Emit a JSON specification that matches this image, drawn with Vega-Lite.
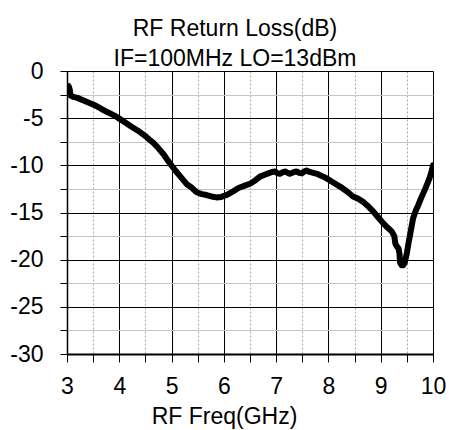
{
  "$schema": "https://vega.github.io/schema/vega-lite/v6.json",
  "width": 366,
  "height": 283,
  "autosize": "none",
  "padding": {"left": 67, "top": 71, "right": 16, "bottom": 76},
  "background": "white",
  "title": {
    "text": ["RF Return Loss(dB)", "IF=100MHz LO=13dBm"],
    "font": "Liberation Sans",
    "fontSize": 23,
    "fontWeight": "normal",
    "color": "black",
    "lineHeight": 30,
    "anchor": "middle",
    "dx": -15,
    "offset": -34,
    "baseline": "bottom"
  },
  "data": {
    "values": [
      {"freq": 3.03, "rl": -1.6},
      {"freq": 3.05, "rl": -1.9},
      {"freq": 3.07, "rl": -2.6},
      {"freq": 3.12, "rl": -2.75},
      {"freq": 3.2, "rl": -2.85},
      {"freq": 3.35, "rl": -3.2},
      {"freq": 3.52, "rl": -3.6},
      {"freq": 3.65, "rl": -4.0},
      {"freq": 3.77, "rl": -4.35},
      {"freq": 3.9, "rl": -4.7},
      {"freq": 4.0, "rl": -5.05},
      {"freq": 4.1, "rl": -5.4},
      {"freq": 4.22, "rl": -5.85},
      {"freq": 4.35, "rl": -6.3},
      {"freq": 4.5, "rl": -6.9},
      {"freq": 4.58, "rl": -7.3},
      {"freq": 4.66, "rl": -7.65},
      {"freq": 4.75, "rl": -8.2},
      {"freq": 4.85, "rl": -8.85},
      {"freq": 4.93, "rl": -9.5},
      {"freq": 5.01, "rl": -10.1},
      {"freq": 5.08, "rl": -10.6},
      {"freq": 5.17, "rl": -11.2},
      {"freq": 5.29, "rl": -12.0},
      {"freq": 5.37, "rl": -12.3},
      {"freq": 5.48, "rl": -12.85},
      {"freq": 5.58, "rl": -13.05},
      {"freq": 5.67, "rl": -13.15},
      {"freq": 5.76, "rl": -13.3},
      {"freq": 5.86, "rl": -13.4},
      {"freq": 5.95, "rl": -13.35},
      {"freq": 6.05, "rl": -13.15},
      {"freq": 6.15, "rl": -12.85},
      {"freq": 6.28, "rl": -12.4},
      {"freq": 6.4, "rl": -12.15},
      {"freq": 6.5, "rl": -11.95},
      {"freq": 6.6, "rl": -11.6},
      {"freq": 6.69, "rl": -11.2},
      {"freq": 6.78, "rl": -11.0},
      {"freq": 6.85, "rl": -10.85},
      {"freq": 6.92, "rl": -10.7},
      {"freq": 6.98, "rl": -10.65},
      {"freq": 7.03, "rl": -10.85},
      {"freq": 7.07, "rl": -10.9},
      {"freq": 7.12, "rl": -10.75},
      {"freq": 7.17, "rl": -10.65},
      {"freq": 7.22, "rl": -10.8},
      {"freq": 7.26, "rl": -10.9},
      {"freq": 7.32, "rl": -10.75},
      {"freq": 7.39, "rl": -10.65},
      {"freq": 7.44, "rl": -10.8},
      {"freq": 7.49, "rl": -10.85},
      {"freq": 7.54, "rl": -10.65},
      {"freq": 7.58, "rl": -10.55},
      {"freq": 7.64, "rl": -10.7},
      {"freq": 7.71, "rl": -10.8},
      {"freq": 7.78, "rl": -10.9},
      {"freq": 7.84, "rl": -11.05},
      {"freq": 7.92, "rl": -11.25},
      {"freq": 8.0, "rl": -11.5},
      {"freq": 8.1, "rl": -11.85},
      {"freq": 8.22, "rl": -12.25},
      {"freq": 8.35, "rl": -12.75},
      {"freq": 8.47, "rl": -13.3},
      {"freq": 8.57, "rl": -13.55},
      {"freq": 8.67, "rl": -13.9},
      {"freq": 8.77, "rl": -14.4},
      {"freq": 8.86, "rl": -14.9},
      {"freq": 8.95, "rl": -15.5},
      {"freq": 9.05, "rl": -16.15},
      {"freq": 9.13, "rl": -16.6},
      {"freq": 9.21, "rl": -17.0},
      {"freq": 9.26, "rl": -17.5},
      {"freq": 9.28, "rl": -18.3},
      {"freq": 9.31, "rl": -18.6},
      {"freq": 9.34, "rl": -18.8},
      {"freq": 9.36, "rl": -19.4},
      {"freq": 9.37, "rl": -20.3},
      {"freq": 9.4, "rl": -20.6},
      {"freq": 9.43, "rl": -20.6},
      {"freq": 9.46, "rl": -20.3},
      {"freq": 9.5, "rl": -19.3},
      {"freq": 9.53, "rl": -18.3},
      {"freq": 9.56, "rl": -17.4},
      {"freq": 9.59, "rl": -16.5},
      {"freq": 9.62, "rl": -15.6},
      {"freq": 9.67, "rl": -14.8},
      {"freq": 9.72, "rl": -14.2},
      {"freq": 9.77, "rl": -13.5},
      {"freq": 9.81, "rl": -13.0},
      {"freq": 9.85, "rl": -12.5},
      {"freq": 9.88, "rl": -12.1},
      {"freq": 9.93, "rl": -11.4},
      {"freq": 9.97, "rl": -10.7},
      {"freq": 10.0, "rl": -10.0}
    ]
  },
  "mark": {"type": "line", "color": "black", "strokeWidth": 6, "strokeCap": "round", "strokeJoin": "round", "clip": true},
  "encoding": {
    "x": {
      "field": "freq",
      "type": "quantitative",
      "scale": {"domain": [3, 10], "nice": false, "zero": false},
      "axis": {
        "values": [3, 3.5, 4, 4.5, 5, 5.5, 6, 6.5, 7, 7.5, 8, 8.5, 9, 9.5, 10],
        "labelExpr": "datum.value % 1 === 0 ? '' + datum.value : ''",
        "labelFont": "Liberation Sans",
        "labelFontSize": 23,
        "labelColor": "black",
        "labelPadding": 13,
        "labelFlush": false,
        "labelOverlap": false,
        "tickSize": 8,
        "tickColor": "black",
        "tickWidth": 1,
        "domainColor": "black",
        "domainWidth": 2,
        "grid": true,
        "gridColor": {"condition": {"test": "datum.value % 1 !== 0", "value": "#a8a8a8"}, "value": "black"},
        "gridDash": {"condition": {"test": "datum.value % 1 !== 0", "value": [2, 2]}, "value": []},
        "gridWidth": 1,
        "gridOpacity": 1,
        "title": "RF Freq(GHz)",
        "titleFont": "Liberation Sans",
        "titleFontSize": 23,
        "titleFontWeight": "normal",
        "titleColor": "black",
        "titleX": 157,
        "titleY": 69,
        "titleBaseline": "alphabetic",
        "titleAlign": "center",
        "titleAnchor": null
      }
    },
    "y": {
      "field": "rl",
      "type": "quantitative",
      "scale": {"domain": [-30, 0], "nice": false, "zero": false},
      "axis": {
        "values": [0, -2.5, -5, -7.5, -10, -12.5, -15, -17.5, -20, -22.5, -25, -27.5, -30],
        "labelExpr": "datum.value % 5 === 0 ? '' + datum.value : ''",
        "labelFont": "Liberation Sans",
        "labelFontSize": 23,
        "labelColor": "black",
        "labelPadding": 17,
        "labelBaseline": "middle",
        "labelFlush": false,
        "labelOverlap": false,
        "tickSize": 7,
        "tickColor": "black",
        "tickWidth": 1,
        "domainColor": "black",
        "domainWidth": 1.5,
        "grid": true,
        "gridColor": {"condition": {"test": "datum.value % 5 !== 0", "value": "#c4c4c4"}, "value": "black"},
        "gridWidth": 1,
        "gridOpacity": 1,
        "title": null
      }
    }
  },
  "config": {"view": {"stroke": null}}
}
